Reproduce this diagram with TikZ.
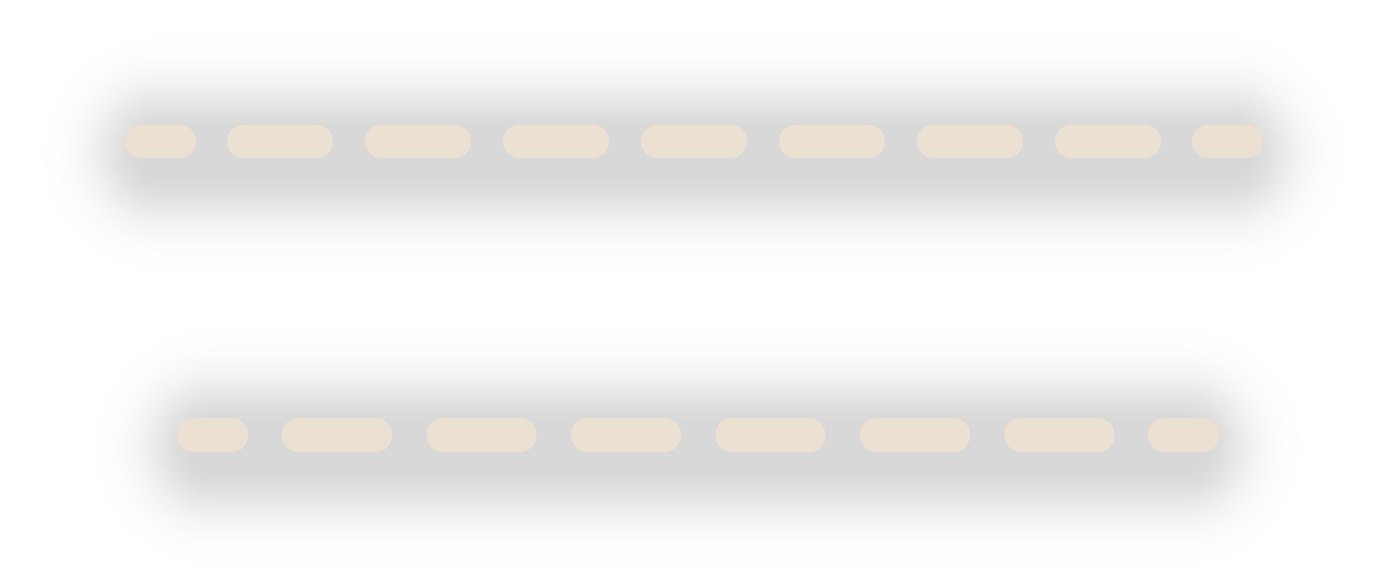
\documentclass[tikz,border=0pt]{standalone}
\definecolor{pill}{RGB}{236,224,210}
\tikzset{
  pillshape/.style={fill=pill, rounded corners=16.5pt},
  shadowlayer/.style={fill=black, fill opacity=0.0044}
}
\newcommand{\rowshadow}[4]{% x1, x2, y1, y2 of shadow core
  \foreach \i in {1,...,39} {
    \pgfmathsetmacro\e{52*sqrt(-ln(\i/40))}
    \pgfmathsetmacro\r{\e+16.5}
    \fill[shadowlayer, rounded corners=\r pt] ({#1-\e},{#3-\e}) rectangle ({#2+\e},{#4+\e});
  }
}
\begin{document}
\begin{tikzpicture}[x=1pt,y=-1pt]
\fill[white] (0,0) rectangle (1393,585);
\useasboundingbox (0,0) rectangle (1393,585);
% shadows
\rowshadow{145}{1243}{137}{170}
\rowshadow{197}{1199}{430}{464}
% row 1 pills
\fill[pillshape] (125,125) rectangle (196,158);
\foreach \k in {0,...,6} {
  \fill[pillshape] ({227+138*\k},125) rectangle ({333+138*\k},158);
}
\fill[pillshape] (1192,125) rectangle (1263,158);
% row 2 pills
\fill[pillshape] (177,418) rectangle (248,452);
\foreach \k in {0,...,5} {
  \fill[pillshape] ({282+144.5*\k},418) rectangle ({392+144.5*\k},452);
}
\fill[pillshape] (1148,418) rectangle (1219,452);
\end{tikzpicture}
\end{document}
